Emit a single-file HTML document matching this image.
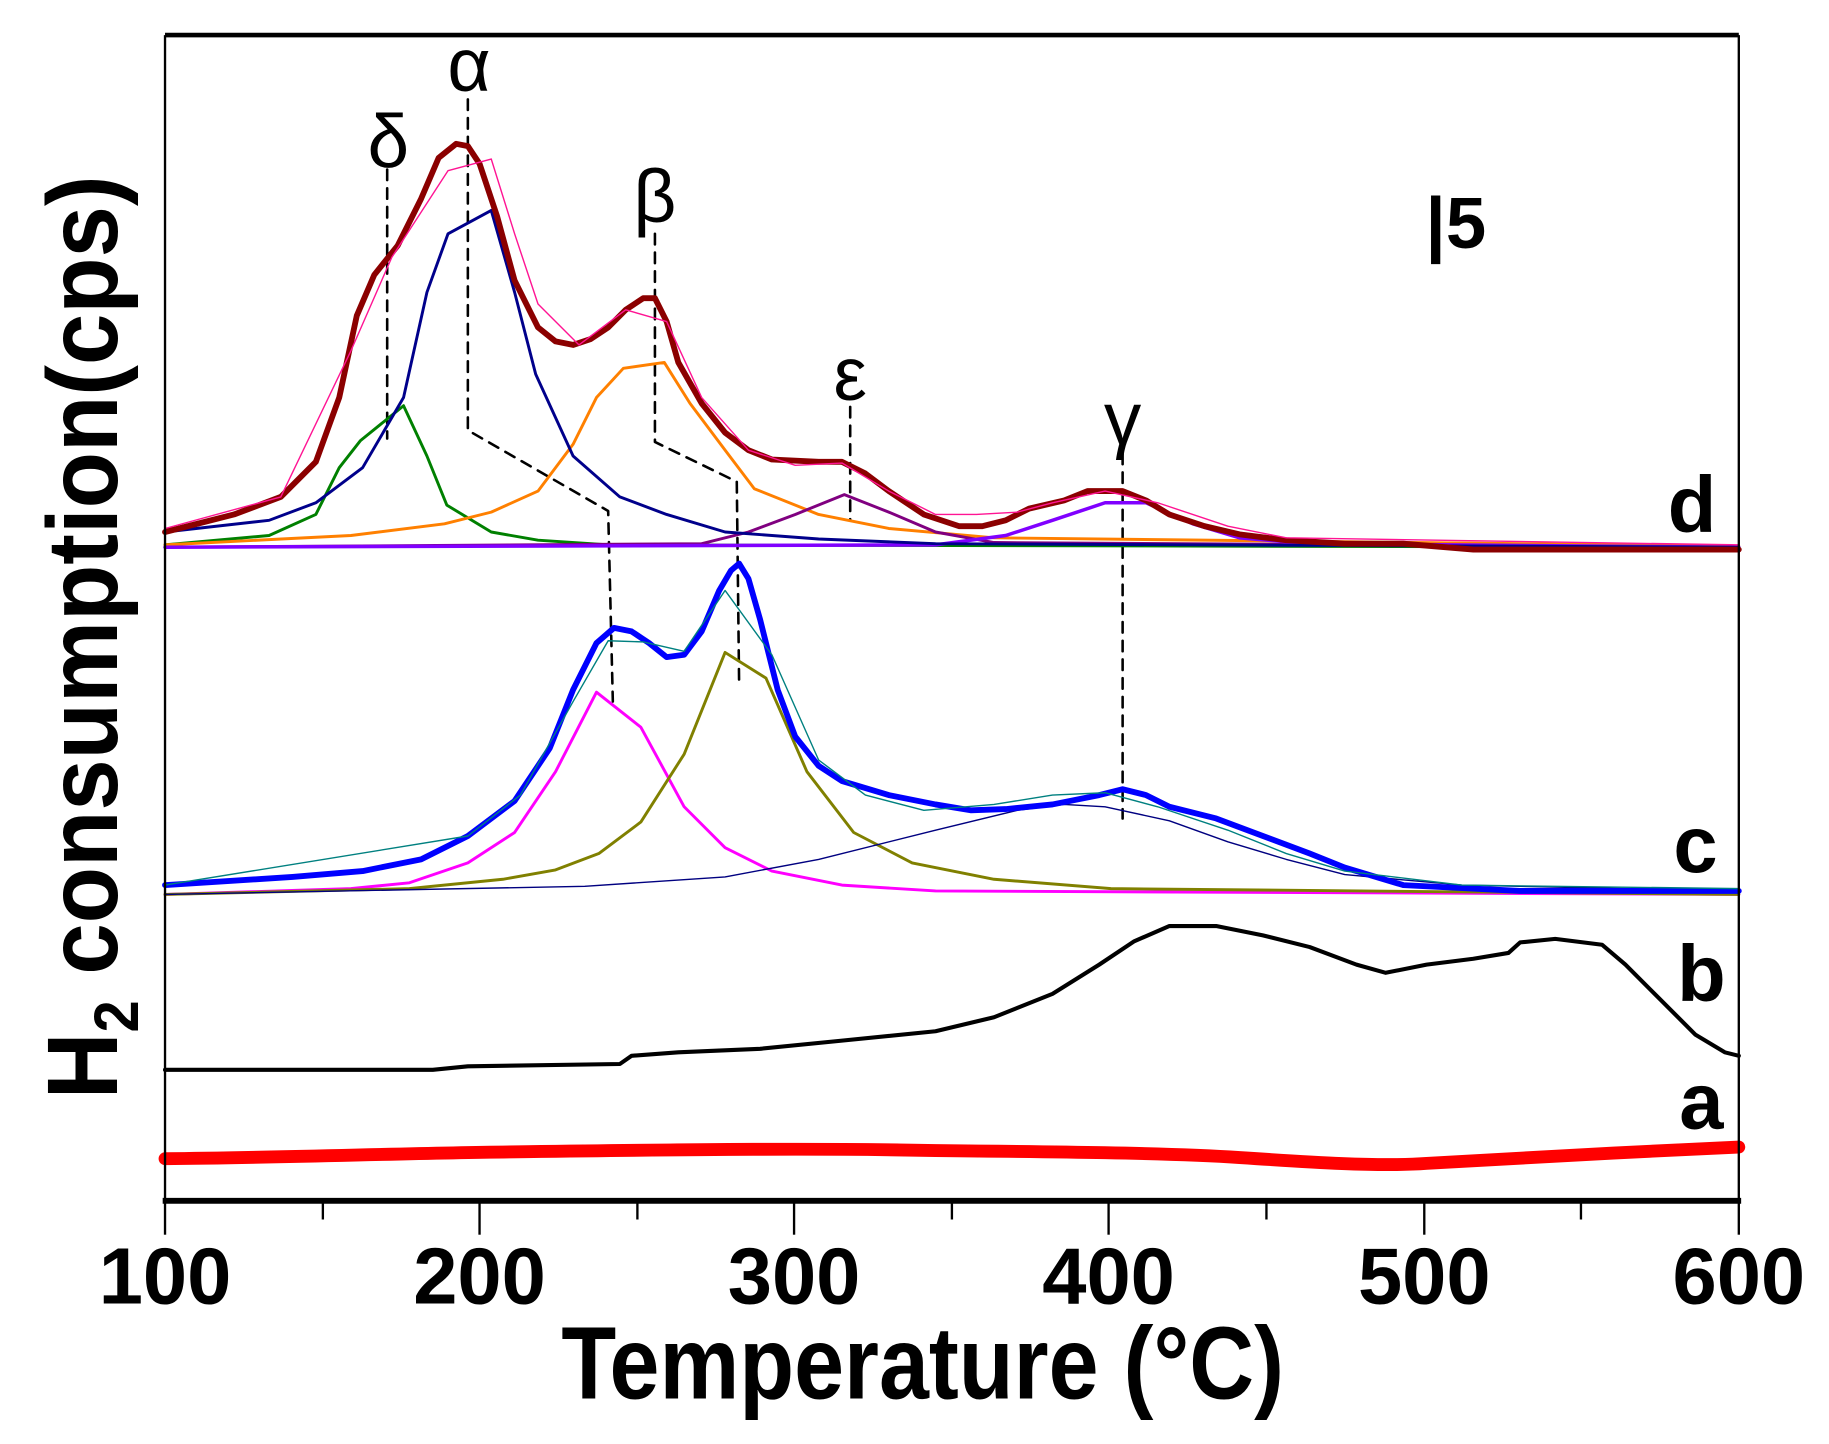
<!DOCTYPE html>
<html><head><meta charset="utf-8"><style>html,body{margin:0;padding:0;background:#fff}svg{display:block}</style></head>
<body>
<svg width="1829" height="1444" viewBox="0 0 1564 1235" xmlns="http://www.w3.org/2000/svg" font-family="Liberation Sans, sans-serif">
<rect width="1564" height="1235" fill="#fff"/>
<g fill="none" stroke-linejoin="round" stroke-linecap="round">
<g stroke="#000" stroke-width="2.2" stroke-dasharray="9,7">
<polyline points="331,145 331,375"/>
<polyline points="400,85 400,368 520,437 524,600"/>
<polyline points="560,200 560,378 630,412 632,585"/>
<polyline points="727,348 727,445"/>
<polyline points="960,388 960,700"/>
</g>
<polyline stroke="#008000" stroke-width="2.5" points="141,466 230,458 270,440 290,400 308,377 345,347 365,390 382,432 420,455 460,462 520,466 1487,468"/>
<polyline stroke="#FF8000" stroke-width="2.5" points="141,466 300,458 380,448 420,438 460,420 490,380 510,340 533,315 568,310 590,345 620,385 645,418 700,440 760,452 850,460 1487,467"/>
<polyline stroke="#800080" stroke-width="2.5" points="141,468 600,465 640,455 680,440 722,423 760,438 800,455 850,464 1487,468"/>
<polyline stroke="#8000FF" stroke-width="3" points="141,468 800,466 860,458 900,445 945,430 980,430 1020,448 1060,460 1120,465 1487,468"/>
<polyline stroke="#00008B" stroke-width="2.5" points="141,455 230,445 270,430 310,400 345,340 365,250 383,200 420,180 440,250 458,320 490,390 530,425 570,440 620,455 700,461 800,465 1487,468"/>
<polyline stroke="#8B0000" stroke-width="5" points="141,455 200,440 240,425 270,395 290,340 305,270 320,235 340,210 360,170 375,135 390,123 400,125 410,140 425,185 440,240 460,280 475,292 490,295 505,290 520,280 535,265 550,255 560,255 570,275 580,310 600,345 620,370 640,385 660,393 700,395 720,395 740,405 760,420 790,440 820,450 840,450 860,445 880,435 910,428 930,420 960,420 980,428 1000,440 1030,450 1060,457 1100,462 1150,465 1200,465 1260,470 1350,470 1420,470 1487,470"/>
<polyline stroke="#FF1493" stroke-width="1.2" points="141,452 240,425 300,300 335,220 383,146 420,136 440,200 460,260 495,295 535,265 570,275 600,340 640,385 680,398 720,396 760,420 800,440 835,440 870,438 900,430 945,420 990,430 1050,450 1100,460 1487,466"/>
<polyline stroke="#FF00FF" stroke-width="2.5" points="141,765 300,760 350,755 400,738 440,712 475,660 510,592 548,622 585,690 620,725 660,745 720,757 800,762 1487,765"/>
<polyline stroke="#808000" stroke-width="2.5" points="141,765 350,760 430,752 475,744 512,730 548,703 585,645 620,558 655,580 690,660 730,712 780,738 850,752 950,760 1487,765"/>
<polyline stroke="#000080" stroke-width="1.2" points="141,765 500,758 620,750 700,735 800,710 870,693 910,688 945,690 1000,702 1050,720 1100,735 1150,748 1250,757 1487,762"/>
<polyline stroke="#0000FF" stroke-width="5" points="141,757 250,750 310,745 360,735 400,715 440,685 470,640 490,590 510,550 525,537 540,540 555,550 570,562 585,560 600,540 615,505 625,488 632,482 640,495 650,530 665,590 680,630 700,655 720,668 760,680 800,688 830,693 860,692 900,688 940,680 960,675 980,680 1000,690 1040,700 1080,715 1120,730 1150,742 1200,757 1300,762 1487,762"/>
<polyline stroke="#008080" stroke-width="1.2" points="141,757 400,715 445,680 490,600 520,548 550,549 585,557 620,505 660,560 700,650 740,680 790,693 850,688 900,680 945,678 990,690 1050,710 1100,730 1150,745 1250,757 1487,760"/>
<polyline stroke="#000" stroke-width="3.5" points="141,915 370,915 400,912 530,910 540,903 580,900 650,897 720,890 800,882 850,870 900,850 940,825 970,805 1000,792 1040,792 1080,800 1120,810 1160,825 1185,832 1220,825 1260,820 1290,815 1300,806 1330,803 1370,808 1390,825 1420,855 1450,885 1475,900 1487,903"/>
<path stroke="#FF0000" stroke-width="11" d="M141,991 C250,990 350,986 450,985 C600,983 700,982 800,984 C900,985 1000,986 1060,990 C1120,994 1180,998 1220,995 C1300,990 1400,985 1487,981"/>
</g>
<g stroke="#000" fill="none">
<line x1="141" y1="30" x2="1487" y2="30" stroke-width="4"/>
<line x1="141" y1="30" x2="141" y2="1027" stroke-width="2"/>
<line x1="1487" y1="30" x2="1487" y2="1027" stroke-width="2"/>
<line x1="139" y1="1027" x2="1489" y2="1027" stroke-width="5"/>
<g stroke-width="2">
<line x1="141" y1="1027" x2="141" y2="1056"/><line x1="410" y1="1027" x2="410" y2="1056"/><line x1="679" y1="1027" x2="679" y2="1056"/><line x1="948" y1="1027" x2="948" y2="1056"/><line x1="1218" y1="1027" x2="1218" y2="1056"/><line x1="1487" y1="1027" x2="1487" y2="1056"/>
<line x1="276" y1="1027" x2="276" y2="1043"/><line x1="545" y1="1027" x2="545" y2="1043"/><line x1="814" y1="1027" x2="814" y2="1043"/><line x1="1083" y1="1027" x2="1083" y2="1043"/><line x1="1352" y1="1027" x2="1352" y2="1043"/>
</g>
</g>
<g font-weight="bold" font-size="68" text-anchor="middle" fill="#000">
<text x="141" y="1115">100</text><text x="410" y="1115">200</text><text x="679" y="1115">300</text><text x="948" y="1115">400</text><text x="1218" y="1115">500</text><text x="1487" y="1115">600</text>
</g>
<text x="789" y="1196" font-weight="bold" font-size="88" text-anchor="middle" textLength="618" lengthAdjust="spacingAndGlyphs">Temperature (°C)</text>
<text transform="translate(100,545) rotate(-90)" font-weight="bold" font-size="86" text-anchor="middle" textLength="790" lengthAdjust="spacingAndGlyphs">H<tspan font-size="54" dy="18">2</tspan><tspan dy="-18"> consumption(cps)</tspan></text>
<g font-size="64" text-anchor="middle" fill="#000">
<text x="332" y="143">δ</text><text x="401" y="78">α</text><text x="560" y="190">β</text><text x="727" y="342">ε</text><text x="960" y="380">γ</text>
</g>
<text x="1245" y="212" font-weight="bold" font-size="62" text-anchor="middle">|5</text>
<g font-weight="bold" font-size="68" text-anchor="middle">
<text x="1447" y="455">d</text><text x="1450" y="746">c</text><text x="1455" y="856">b</text><text x="1455" y="965">a</text>
</g>
</svg>
</body></html>
